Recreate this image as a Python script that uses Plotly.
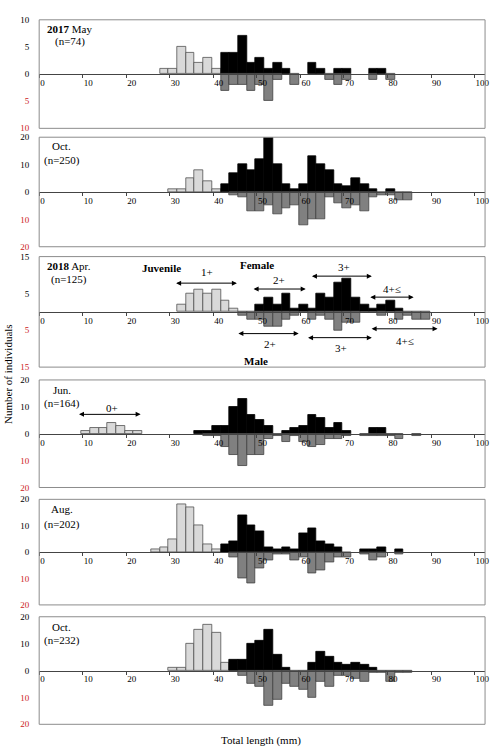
import plotly.graph_objects as go

# ---------------- data ----------------
# lower bound of each 2-mm total-length class (mm)
length_class = [9.7, 11.7, 13.7, 15.7, 17.7, 19.7, 21.7, 23.7, 25.7, 27.7,
                29.7, 31.7, 33.7, 35.7, 37.7, 39.7, 41.7, 43.7, 45.7, 47.7,
                49.7, 51.7, 53.7, 55.7, 57.7, 59.7, 61.7, 63.7, 65.7, 67.7,
                69.7, 71.7, 73.7, 75.7, 77.7, 79.7, 81.7, 83.7, 85.7, 87.7]

# 2017 May
may17_juv = [0, 0, 0, 0, 0, 0, 0, 0, 0, 1,
             1, 5, 4, 2, 3, 1, 0, 0, 0, 0,
             0, 0, 0, 0, 0, 0, 0, 0, 0, 0,
             0, 0, 0, 0, 0, 0, 0, 0, 0, 0]
may17_fem = [0, 0, 0, 0, 0, 0, 0, 0, 0, 0,
             0, 0, 0, 0, 0, 0, 4, 4, 7, 2,
             3, 1, 2, 1, 0, 0, 2, 1, 0, 1,
             1, 0, 0, 1, 1, 0, 0, 0, 0, 0]
may17_male = [0, 0, 0, 0, 0, 0, 0, 0, 0, 0,
              0, 0, 0, 0, 0, 0, 3, 2, 2, 3,
              2, 5, 1, 0, 2, 0, 0, 0, 1, 2,
              1, 0, 0, 1, 0, 1, 0, 0, 0, 0]
# 2017 Oct
oct17_juv = [0, 0, 0, 0, 0, 0, 0, 0, 0, 0,
             1, 1, 5, 8, 4, 1, 0, 0, 0, 0,
             0, 0, 0, 0, 0, 0, 0, 0, 0, 0,
             0, 0, 0, 0, 0, 0, 0, 0, 0, 0]
oct17_fem = [0, 0, 0, 0, 0, 0, 0, 0, 0, 0,
             0, 0, 0, 0, 0, 0, 3, 7, 10, 8,
             12, 20, 10, 3, 1, 3, 13, 10, 8, 3,
             2, 5, 3, 1, 0, 1, 0, 0, 0, 0]
oct17_male = [0, 0, 0, 0, 0, 0, 0, 0, 0, 0,
              0, 0, 0, 0, 0, 0, 0, 1, 2, 7,
              7, 5, 8, 6, 5, 12, 10, 10, 2, 4,
              6, 5, 7, 2, 1, 1, 3, 3, 0, 0]
# 2018 Apr
apr18_juv = [0, 0, 0, 0, 0, 0, 0, 0, 0, 0,
             0, 2, 5, 6, 5, 6, 3, 1, 0, 0,
             0, 0, 0, 0, 0, 0, 0, 0, 0, 0,
             0, 0, 0, 0, 0, 0, 0, 0, 0, 0]
apr18_fem = [0, 0, 0, 0, 0, 0, 0, 0, 0, 0,
             0, 0, 0, 0, 0, 0, 0, 0, 0, 0,
             2, 4, 2, 5, 1, 2, 1, 5, 4, 8,
             9, 4, 2, 1, 2, 3, 1, 0, 0, 0]
apr18_male = [0, 0, 0, 0, 0, 0, 0, 0, 0, 0,
              0, 0, 0, 0, 0, 0, 0, 0, 1, 2,
              2, 4, 4, 2, 1, 0, 2, 1, 2, 5,
              3, 3, 0, 0, 1, 0, 2, 1, 2, 2]
# 2018 Jun
jun18_juv = [1, 2, 2, 4, 3, 1, 1, 0, 0, 0,
             0, 0, 0, 0, 0, 0, 0, 0, 0, 0,
             0, 0, 0, 0, 0, 0, 0, 0, 0, 0,
             0, 0, 0, 0, 0, 0, 0, 0, 0, 0]
jun18_fem = [0, 0, 0, 0, 0, 0, 0, 0, 0, 0,
             0, 0, 0, 1, 1, 3, 3, 10, 13, 7,
             5, 3, 0, 1, 2, 3, 7, 6, 2, 4,
             1, 0, 0, 2, 2, 0, 0, 0, 0, 0]
jun18_male = [0, 0, 0, 0, 0, 0, 0, 0, 0, 0,
              0, 0, 0, 0, 1, 1, 5, 8, 12, 8,
              8, 2, 1, 3, 1, 3, 5, 4, 2, 2,
              1, 0, 1, 1, 1, 1, 2, 0, 1, 0]
# 2018 Aug
aug18_juv = [0, 0, 0, 0, 0, 0, 0, 0, 1, 2,
             5, 18, 17, 10, 3, 1, 0, 0, 0, 0,
             0, 0, 0, 0, 0, 0, 0, 0, 0, 0,
             0, 0, 0, 0, 0, 0, 0, 0, 0, 0]
aug18_fem = [0, 0, 0, 0, 0, 0, 0, 0, 0, 0,
             0, 0, 0, 0, 0, 0, 3, 4, 14, 10,
             8, 2, 1, 2, 1, 7, 9, 4, 3, 2,
             0, 0, 1, 1, 2, 0, 1, 0, 0, 0]
aug18_male = [0, 0, 0, 0, 0, 0, 0, 0, 0, 0,
              0, 0, 0, 0, 0, 0, 0, 2, 10, 12,
              6, 3, 1, 1, 3, 2, 8, 7, 4, 2,
              2, 0, 1, 3, 2, 0, 1, 0, 0, 0]
# 2018 Oct
oct18_juv = [0, 0, 0, 0, 0, 0, 0, 0, 0, 0,
             1, 1, 10, 15, 17, 14, 3, 0, 0, 0,
             0, 0, 0, 0, 0, 0, 0, 0, 0, 0,
             0, 0, 0, 0, 0, 0, 0, 0, 0, 0]
oct18_fem = [0, 0, 0, 0, 0, 0, 0, 0, 0, 0,
             0, 0, 0, 0, 0, 0, 0, 4, 4, 10,
             11, 15, 6, 1, 0, 0, 3, 7, 5, 3,
             2, 3, 2, 1, 0, 0, 0, 0, 0, 0]
oct18_male = [0, 0, 0, 0, 0, 0, 0, 0, 0, 0,
              0, 0, 0, 0, 0, 0, 0, 0, 2, 5,
              6, 13, 11, 5, 6, 7, 10, 4, 6, 2,
              2, 3, 4, 1, 1, 4, 1, 1, 0, 0]

x_ticks = [0, 10, 20, 30, 40, 50, 60, 70, 80, 90, 100]

# ---------------- layout helpers ----------------
W, H = 496, 752
FONT = "Liberation Serif"
RED = "#cc2222"
BIN_W = 2.0
centers = [c + BIN_W / 2 for c in length_class]

X_LEFT, X_RIGHT = 39.5, 489.0
X_RANGE = [0, 102.4]

panels = [
    dict(year="2017", month="May", n=74, juv=may17_juv, fem=may17_fem, male=may17_male,
         ymax=10, tv=[10, 5, 0, -5, -10], top=15, bottom=125, lx=70.5, ly=(24, 37)),
    dict(year="", month="Oct.", n=250, juv=oct17_juv, fem=oct17_fem, male=oct17_male,
         ymax=20, tv=[20, 10, 0, -10, -20], top=134, bottom=245, lx=62, ly=(143, 158)),
    dict(year="2018", month="Apr.", n=125, juv=apr18_juv, fem=apr18_fem, male=apr18_male,
         ymax=15, tv=[15, 5, -5, -15], top=255, bottom=367, lx=70, ly=(265, 278)),
    dict(year="", month="Jun.", n=164, juv=jun18_juv, fem=jun18_fem, male=jun18_male,
         ymax=20, tv=[20, 10, 0, -10, -20], top=380, bottom=489, lx=62, ly=(390, 404)),
    dict(year="", month="Aug.", n=202, juv=aug18_juv, fem=aug18_fem, male=aug18_male,
         ymax=20, tv=[20, 10, 0, -10, -20], top=501, bottom=608, lx=62, ly=(511, 526)),
    dict(year="", month="Oct.", n=232, juv=oct18_juv, fem=oct18_fem, male=oct18_male,
         ymax=20, tv=[20, 10, 0, -10, -20], top=620, bottom=729, lx=62, ly=(630, 644)),
]


def px(x):
    return x / W


def py(y):
    return 1 - y / H


fig = go.Figure()
annotations = []
shapes = []

for i, p in enumerate(panels, start=1):
    xa = "x" if i == 1 else f"x{i}"
    ya = "y" if i == 1 else f"y{i}"

    def nz(vals, sign=1):
        xs = [c for c, v in zip(centers, vals) if v]
        ys = [sign * v for v in vals if v]
        return xs, ys

    for vals, sign, fill, edge in [
        (p["juv"], 1, "#d9d9d9", "#505050"),
        (p["fem"], 1, "#000000", "#000000"),
        (p["male"], -1, "#808080", "#404040"),
    ]:
        xs, ys = nz(vals, sign)
        fig.add_trace(go.Bar(x=xs, y=ys, width=BIN_W, xaxis=xa, yaxis=ya,
                             marker=dict(color=fill, line=dict(color=edge, width=0.8)),
                             showlegend=False, hoverinfo="skip"))

    mid = (p["top"] + p["bottom"]) / 2
    ticktext = []
    for v in p["tv"]:
        if v < 0:
            ticktext.append(f"<span style='color:{RED}'>{abs(v)}</span>")
        else:
            ticktext.append(str(v))

    fig.update_layout(**{
        ("xaxis" if i == 1 else f"xaxis{i}"): dict(
            domain=[px(X_LEFT), px(X_RIGHT)], range=X_RANGE, anchor="free",
            position=py(mid), showline=True, linecolor="#444444", linewidth=1,
            showgrid=False, zeroline=False, tickvals=x_ticks,
            ticks="outside", ticklen=3, tickcolor="#444444", tickwidth=1,
            ticklabelposition="outside right",
            tickfont=dict(family=FONT, size=9, color="black")),
        ("yaxis" if i == 1 else f"yaxis{i}"): dict(
            domain=[py(p["bottom"]), py(p["top"])], range=[-p["ymax"], p["ymax"]],
            anchor=xa, showline=False, showgrid=False, zeroline=False,
            tickvals=p["tv"], ticktext=ticktext, ticks="", ticklabelstandoff=9,
            tickfont=dict(family=FONT, size=9, color="black")),
    })

    shapes.append(dict(type="rect", xref=f"{xa} domain", yref=f"{ya} domain",
                       x0=0, x1=1, y0=0, y1=1, line=dict(color="#8c8c8c", width=1),
                       layer="above"))

    title = (f"<b>{p['year']}</b> {p['month']}" if p["year"] else p["month"])
    annotations.append(dict(x=px(p["lx"]), y=py(p["ly"][0]), xref="paper", yref="paper",
                            text=title, showarrow=False, xanchor="center", yanchor="middle",
                            font=dict(family=FONT, size=11, color="black")))
    annotations.append(dict(x=px(p["lx"]), y=py(p["ly"][1]), xref="paper", yref="paper",
                            text=f"(n={p['n']})", showarrow=False, xanchor="center",
                            yanchor="middle", font=dict(family=FONT, size=11, color="black")))

# ---------------- cohort labels ----------------
def label(xa, ya, x, y, text, bold=False):
    annotations.append(dict(x=x, y=y, xref=xa, yref=ya, showarrow=False,
                            text=f"<b>{text}</b>" if bold else text,
                            font=dict(family=FONT, size=11, color="black"),
                            xanchor="center", yanchor="middle"))


def arrow(xa, ya, x0, x1, y):
    annotations.append(dict(x=x1, y=y, ax=x0, ay=y, xref=xa, yref=ya,
                            axref=xa, ayref=ya, text="", showarrow=True,
                            arrowhead=2, startarrowhead=2, arrowside="end+start",
                            arrowsize=1, arrowwidth=1, arrowcolor="black",
                            standoff=0, startstandoff=0))


# 2018 Apr panel (x3 / y3)
label("x3", "y3", 28.1, 11.8, "Juvenile", bold=True)
label("x3", "y3", 38.6, 10.7, "1+")
arrow("x3", "y3", 31.1, 45.4, 7.8)
label("x3", "y3", 50.0, 12.6, "Female", bold=True)
label("x3", "y3", 55.0, 8.6, "2+")
arrow("x3", "y3", 48.9, 61.2, 6.2)
label("x3", "y3", 70.0, 12.1, "3+")
arrow("x3", "y3", 62.3, 76.4, 9.7)
label("x3", "y3", 81.0, 6.2, "4+≤")
arrow("x3", "y3", 75.7, 86.0, 4.0)
arrow("x3", "y3", 45.4, 59.6, -5.9)
label("x3", "y3", 53.0, -8.8, "2+")
arrow("x3", "y3", 61.4, 76.4, -7.0)
label("x3", "y3", 69.4, -9.9, "3+")
arrow("x3", "y3", 76.0, 91.5, -4.6)
label("x3", "y3", 83.9, -7.8, "4+≤")
label("x3", "y3", 49.8, -13.4, "Male", bold=True)

# 2018 Jun panel (x4 / y4)
label("x4", "y4", 16.7, 9.7, "0+")
arrow("x4", "y4", 8.8, 23.3, 7.2)

# axis titles
annotations.append(dict(x=px(8), y=py(374), xref="paper", yref="paper",
                        text="Number of individuals", textangle=-90, showarrow=False,
                        font=dict(family=FONT, size=11, color="black"),
                        xanchor="center", yanchor="middle"))
annotations.append(dict(x=px(263), y=py(745), xref="paper", yref="paper",
                        text="Total length (mm)", showarrow=False,
                        font=dict(family=FONT, size=11, color="black"),
                        xanchor="center", yanchor="middle"))

fig.update_layout(width=W, height=H, margin=dict(l=0, r=0, t=0, b=0),
                  paper_bgcolor="white", plot_bgcolor="white",
                  barmode="overlay", bargap=0, showlegend=False,
                  annotations=annotations, shapes=shapes, hovermode=False)

fig.write_html("out.html")
